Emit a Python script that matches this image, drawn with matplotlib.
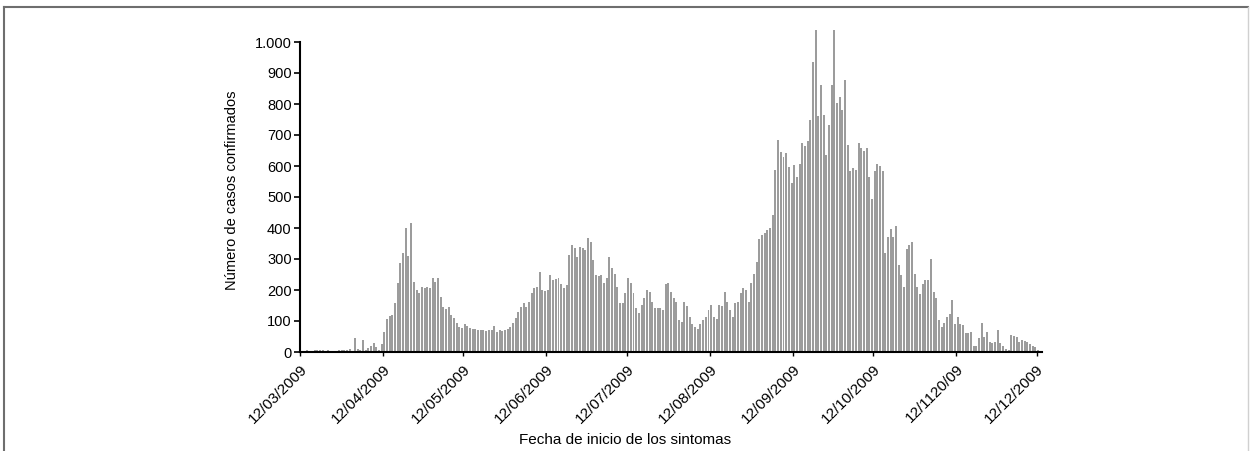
import numpy as np
import matplotlib
matplotlib.use("Agg")
import matplotlib.pyplot as plt
from matplotlib.lines import Line2D

# daily confirmed cases, one value per day starting 12/03/2009
cases = [
    3, 0, 5, 2, 0, 5, 6, 5, 6, 4, 5, 0, 0, 0, 5, 6, 7, 8, 10, 3,
    45, 10, 5, 40, 8, 12, 20, 28, 15, 8, 25, 65, 108, 115, 118, 157, 222, 287, 318, 400,
    310, 415, 225, 200, 190, 210, 205, 210, 208, 240, 225, 240, 178, 145, 140, 145, 120, 110, 95, 82,
    78, 90, 85, 78, 75, 75, 70, 70, 70, 68, 70, 70, 85, 65, 70, 68, 70, 75, 80, 95,
    110, 128, 145, 157, 145, 160, 190, 205, 210, 258, 200, 197, 200, 248, 232, 235, 240, 220, 205, 215,
    312, 345, 335, 308, 340, 335, 330, 368, 355, 297, 248, 245, 248, 223, 240, 307, 270, 252, 210, 157,
    157, 190, 238, 222, 190, 143, 125, 152, 173, 200, 192, 162, 142, 142, 142, 137, 220, 222, 195, 173,
    162, 103, 98, 162, 147, 113, 90, 82, 73, 90, 103, 113, 137, 152, 113, 105, 152, 147, 195, 160,
    135, 113, 157, 162, 190, 205, 200, 160, 222, 252, 290, 365, 378, 385, 393, 400, 442, 587, 684, 646,
    630, 641, 597, 545, 602, 565, 605, 675, 664, 680, 750, 937, 1038, 760, 862, 765, 637, 733, 860, 1038,
    803, 824, 782, 878, 669, 583, 594, 587, 675, 658, 648, 658, 565, 495, 583, 608, 600, 585, 320, 371,
    398, 371, 408, 280, 250, 210, 333, 345, 355, 253, 209, 188, 220, 231, 233, 301, 194, 175, 103, 81,
    95, 113, 122, 168, 90, 112, 90, 88, 60, 62, 65, 18, 20, 45, 95, 48, 63, 32, 30, 33,
    70, 30, 20, 10, 5, 55, 53, 47, 32, 40, 36, 33, 25, 18, 15, 8, 3,
]
days = np.arange(len(cases))

# month ticks: days from 12/03/2009
tick_days = [0, 31, 61, 92, 122, 153, 184, 214, 245, 275]
tick_labels = ["12/03/2009", "12/04/2009", "12/05/2009", "12/06/2009", "12/07/2009",
               "12/08/2009", "12/09/2009", "12/10/2009", "12/1120/09", "12/12/2009"]
y_ticks = [0, 100, 200, 300, 400, 500, 600, 700, 800, 900, 1000]
y_labels = ["0", "100", "200", "300", "400", "500", "600", "700", "800", "900", "1.000"]

FONT = ["Liberation Sans Narrow", "Liberation Sans", "DejaVu Sans"]
plt.rcParams["font.family"] = FONT

fig = plt.figure(figsize=(12.52, 4.51), dpi=100)
ax = fig.add_axes([300 / 1252, 99 / 451, 742 / 1252, 310 / 451])

ax.bar(days + 0.5, cases, width=0.74, color="#9c9c9c", edgecolor="none",
       clip_on=False, zorder=2)

ax.set_xlim(0, 277)
ax.set_ylim(0, 1000)
ax.set_xticks(tick_days)
ax.set_xticklabels(tick_labels, rotation=45, ha="right", rotation_mode="anchor",
                   fontsize=11)
ax.set_yticks(y_ticks)
ax.set_yticklabels(y_labels, fontsize=10.5)
ax.tick_params(axis="y", length=4, width=1.2, pad=2)
ax.tick_params(axis="x", length=3, width=1.0, pad=4)

for s in ("top", "right"):
    ax.spines[s].set_visible(False)
for s in ("left", "bottom"):
    ax.spines[s].set_linewidth(1.5)
ax.set_facecolor("none")

fig.text(232 / 1252, 1 - 190 / 451, "Número de casos confirmados", rotation=90,
         ha="center", va="center", fontsize=10.5)
fig.text(625 / 1252, 1 - 440 / 451, "Fecha de inicio de los sintomas",
         ha="center", va="center", fontsize=11)

# outer frame of the original figure
frame_kw = dict(color="#6e6e6e", linewidth=1.5, transform=fig.transFigure)
fig.add_artist(Line2D([4 / 1252, 1248 / 1252], [1 - 7 / 451, 1 - 7 / 451], **frame_kw))
fig.add_artist(Line2D([4 / 1252, 4 / 1252], [0, 1 - 7 / 451], **frame_kw))
fig.add_artist(Line2D([1248 / 1252, 1248 / 1252], [0, 1 - 7 / 451], color="#d0d0d0",
                      linewidth=1.0, transform=fig.transFigure))

fig.savefig("out.png", dpi=100)
